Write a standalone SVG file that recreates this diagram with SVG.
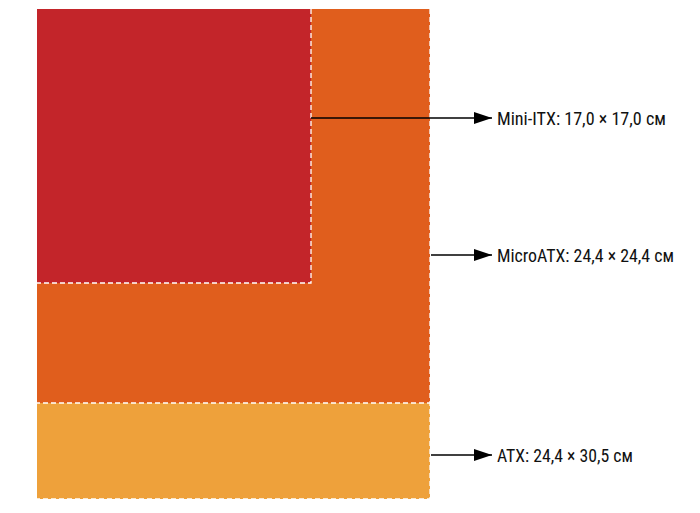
<svg xmlns="http://www.w3.org/2000/svg" width="700" height="513" viewBox="0 0 700 513">
<defs>
<style>
.edge{fill:none;stroke:#ffffff;stroke-width:1.3;stroke-dasharray:5 3}
.lbl{font-family:"Liberation Sans Narrow","Roboto Condensed","Liberation Sans",Arial,sans-serif;font-stretch:condensed;font-size:17.5px;fill:#111111}
.conn{stroke:#000000;stroke-width:1.5;fill:none}
</style>
<marker id="ah" markerWidth="18" markerHeight="12" refX="18" refY="6" orient="auto" markerUnits="userSpaceOnUse">
<path d="M0,0 L18,6 L0,12 Z" fill="#000000"/>
</marker>
</defs>
<rect width="700" height="513" fill="#ffffff"/>
<g id="atx">
<rect x="37" y="9" width="393" height="490" fill="#EEA13B"/>
<path class="edge" d="M430,9 L430,499 L37,499"/>
</g>
<g id="microatx">
<rect x="37" y="9" width="393" height="394" fill="#E05E1D"/>
<path class="edge" d="M430,9 L430,403 L37,403"/>
</g>
<g id="miniitx">
<rect x="37" y="9" width="274" height="274" fill="#C3252A"/>
<path class="edge" d="M311,9 L311,283 L37,283"/>
</g>
<g id="connectors">
<line class="conn" x1="311" y1="118" x2="492" y2="118" marker-end="url(#ah)"/>
<line class="conn" x1="431" y1="255" x2="492" y2="255" marker-end="url(#ah)"/>
<line class="conn" x1="431" y1="455" x2="492" y2="455" marker-end="url(#ah)"/>
</g>
<g id="labels">
<text class="lbl" x="497" y="125" textLength="169" lengthAdjust="spacingAndGlyphs">Mini-ITX: 17,0 × 17,0 см</text>
<text class="lbl" x="497" y="262" textLength="177" lengthAdjust="spacingAndGlyphs">MicroATX: 24,4 × 24,4 см</text>
<text class="lbl" x="497" y="462" textLength="136" lengthAdjust="spacingAndGlyphs">ATX: 24,4 × 30,5 см</text>
</g>
</svg>
